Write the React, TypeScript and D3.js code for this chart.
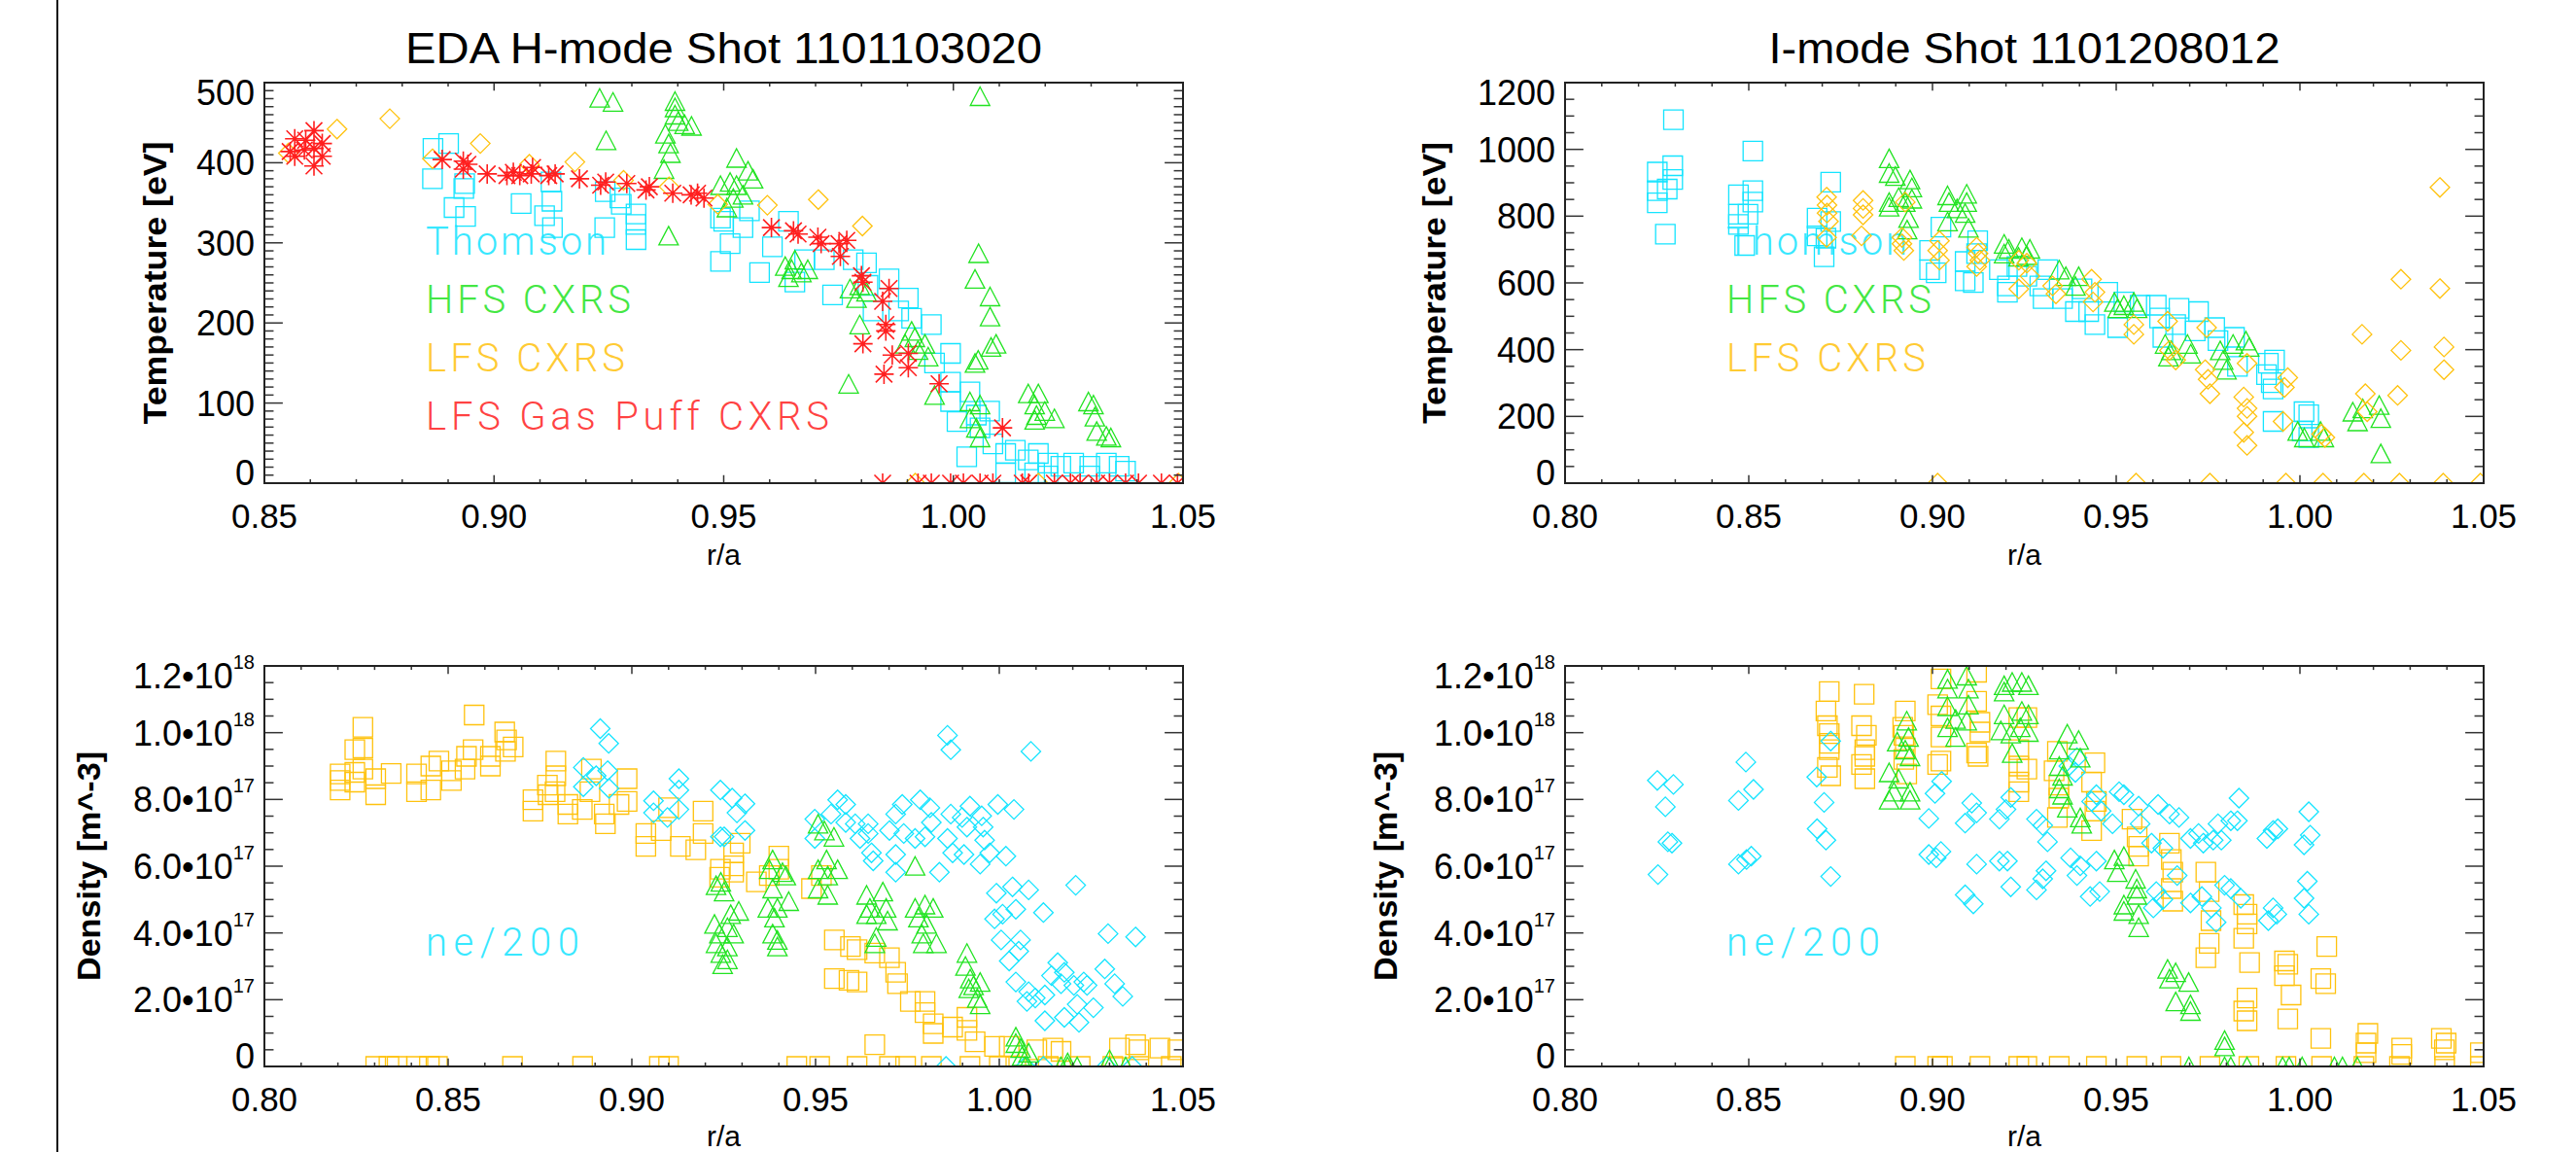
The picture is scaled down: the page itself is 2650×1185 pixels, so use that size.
import React from 'react';
import * as d3 from 'd3';

type Pt = [number, number];

// ---------- EDA H-mode shot 1101103020 : temperature [eV] vs r/a ----------
const edaTeThomson: Pt[] = [
  [0.8867, 418], [0.8901, 424], [0.8866, 380], [0.8936, 374], [0.8934, 368], [0.8913, 344], [0.8938, 333],
  [0.9059, 349], [0.9110, 334], [0.9126, 352], [0.9127, 319], [0.9124, 376], [0.9241, 319], [0.9277, 348],
  [0.9274, 356], [0.9309, 336], [0.9309, 323], [0.9309, 304], [0.9242, 364], [0.9493, 331], [0.9493, 277],
  [0.9500, 327], [0.9514, 299], [0.9542, 319], [0.9556, 340], [0.9578, 263], [0.9606, 295], [0.9641, 327],
  [0.9655, 251], [0.9676, 279], [0.9719, 279], [0.9737, 235], [0.9782, 279], [0.9811, 275], [0.9814, 247],
  [0.9825, 215], [0.9860, 255], [0.9881, 215], [0.9902, 231], [0.9909, 206], [0.9952, 198], [0.9994, 162],
  [0.9959, 150], [0.9994, 126], [1.0036, 114], [0.9994, 102], [1.0008, 77], [1.0050, 85], [1.0079, 90],
  [1.0029, 33], [1.0058, 69], [1.0086, 49], [1.0114, 37], [1.0135, 41], [1.0163, 29], [1.0185, 37],
  [1.0206, 25], [1.0234, 21], [1.0262, 25], [1.0297, 21], [1.0333, 25], [1.0361, 21], [1.0375, 15],
  [1.0206, 9], [1.0177, 13], [1.0114, 13], [1.0297, 9],
];
const edaTeHfs: Pt[] = [
  [0.9230, 481], [0.9259, 476], [0.9244, 428], [0.9394, 477], [0.9394, 469], [0.9394, 460], [0.9401, 452],
  [0.9415, 448], [0.9430, 446], [0.9373, 436], [0.9380, 424], [0.9384, 412], [0.9370, 392], [0.9380, 309],
  [0.9493, 372], [0.9528, 406], [0.9553, 390], [0.9564, 380], [0.9514, 376], [0.9528, 372], [0.9542, 360],
  [0.9507, 344], [0.9521, 356], [0.9655, 279], [0.9648, 267], [0.9641, 257], [0.9669, 263], [0.9683, 267],
  [0.9634, 271], [0.9772, 124], [0.9775, 243], [0.9796, 247], [0.9789, 231], [0.9811, 239], [0.9796, 198],
  [0.9909, 190], [0.9916, 182], [0.9938, 174], [0.9923, 166], [0.9945, 158], [0.9895, 174], [0.9959, 110],
  [1.0036, 102], [1.0058, 98], [1.0036, 81], [1.0050, 69], [1.0058, 57], [1.0058, 483], [1.0055, 287],
  [1.0047, 255], [1.0080, 233], [1.0080, 208], [1.0082, 170], [1.0093, 174], [1.0047, 150], [1.0054, 154],
  [1.0163, 112], [1.0185, 112], [1.0177, 98], [1.0181, 85], [1.0199, 90], [1.0220, 81], [1.0177, 79],
  [1.0294, 102], [1.0305, 98], [1.0308, 83], [1.0312, 65], [1.0333, 59], [1.0343, 57],
];
const edaTeLfs: Pt[] = [
  [0.8552, 412], [0.8658, 442], [0.8773, 455], [0.8866, 405], [0.8970, 424], [0.9077, 398], [0.9176, 401],
  [0.9282, 378], [0.9381, 370], [0.9487, 348], [0.9595, 347], [0.9706, 354], [0.9802, 321],
  [0.9917, 0], [1.0185, 0], [1.0490, 0],
];
const edaTeGasPuff: Pt[] = [
  [0.8566, 430], [0.8566, 408], [0.8608, 440], [0.8608, 418], [0.8608, 396], [0.8626, 424], [0.8626, 408],
  [0.8587, 416], [0.8556, 414], [0.8590, 428],
  [0.8887, 404], [0.8933, 402], [0.8933, 392], [0.8943, 398], [0.8985, 386], [0.9028, 384], [0.9042, 388],
  [0.9056, 384], [0.9081, 386], [0.9084, 394], [0.9119, 384], [0.9133, 386], [0.9186, 380], [0.9232, 372],
  [0.9243, 376], [0.9289, 374], [0.9331, 366], [0.9338, 370], [0.9389, 362], [0.9429, 360], [0.9443, 362],
  [0.9457, 356], [0.9604, 319], [0.9652, 315], [0.9662, 311], [0.9705, 307], [0.9712, 299], [0.9751, 299],
  [0.9768, 303], [0.9754, 283], [0.9800, 259], [0.9803, 251], [0.9846, 227], [0.9860, 243], [0.9853, 198],
  [0.9853, 190], [0.9803, 174], [0.9867, 160], [0.9849, 136], [0.9902, 162], [0.9902, 144], [0.9969, 124],
  [1.0107, 69],
  [0.9846, 0], [0.9923, 0], [0.9952, 0], [0.9994, 0], [1.0022, 0], [1.0058, 0], [1.0086, 0], [1.0150, 0],
  [1.0164, 0], [1.0220, 0], [1.0255, 0], [1.0276, 0], [1.0312, 0], [1.0340, 0], [1.0375, 0], [1.0403, 0],
  [1.0453, 0], [1.0488, 0],
];

// ---------- I-mode shot 1101208012 : temperature [eV] vs r/a ----------
const imodeTeThomson: Pt[] = [
  [0.8295, 1089], [0.8251, 932], [0.8293, 951], [0.8293, 910], [0.8278, 881], [0.8251, 876], [0.8251, 840],
  [0.8273, 746], [0.8511, 995], [0.8472, 864], [0.8511, 876], [0.8511, 842], [0.8472, 806], [0.8498, 806],
  [0.8472, 775], [0.8489, 712], [0.8723, 902], [0.8686, 794], [0.8723, 784], [0.8686, 741], [0.8710, 734],
  [0.8705, 678], [0.9023, 767], [0.8992, 697], [0.8992, 640], [0.9010, 630], [0.9089, 664], [0.9089, 606],
  [0.9111, 601], [0.9123, 726], [0.9120, 688], [0.9182, 640], [0.9204, 591], [0.9204, 572], [0.9230, 649],
  [0.9257, 620], [0.9314, 640], [0.9301, 553], [0.9292, 591], [0.9354, 553], [0.9389, 514], [0.9407, 582],
  [0.9425, 514], [0.9442, 475], [0.9477, 572], [0.9504, 466], [0.9521, 543], [0.9565, 533], [0.9609, 533],
  [0.9618, 495], [0.9627, 437], [0.9671, 524], [0.9662, 475], [0.9724, 514], [0.9715, 456], [0.9768, 466],
  [0.9777, 427], [0.9822, 437], [0.9830, 350], [0.9914, 359], [0.9931, 369], [0.9922, 301], [0.9927, 282],
  [0.9909, 325], [0.9927, 185], [1.0011, 214], [1.0024, 205], [1.0006, 156], [1.0024, 137],
];
const imodeTeHfs: Pt[] = [
  [0.8882, 973], [0.8882, 929], [0.8899, 920], [0.8939, 910], [0.8944, 886], [0.8882, 842], [0.8882, 828],
  [0.8908, 857], [0.8926, 842], [0.8944, 852], [0.8935, 794], [0.8931, 760], [0.9041, 862], [0.9045, 842],
  [0.9093, 867], [0.9093, 842], [0.9067, 823], [0.9089, 809], [0.9041, 784], [0.9098, 765], [0.9195, 717],
  [0.9208, 702], [0.9195, 688], [0.9243, 707], [0.9234, 678], [0.9265, 702], [0.9257, 683], [0.9345, 640],
  [0.9363, 620], [0.9398, 620], [0.9389, 591], [0.9495, 543], [0.9504, 524], [0.9521, 533], [0.9548, 543],
  [0.9557, 524], [0.9633, 417], [0.9650, 398], [0.9642, 379], [0.9694, 417], [0.9703, 388], [0.9783, 398],
  [0.9791, 369], [0.9800, 340], [0.9818, 417], [0.9853, 427], [0.9862, 408], [0.9994, 156], [1.0012, 137],
  [1.0056, 156], [1.0065, 137], [1.0144, 214], [1.0171, 224], [1.0157, 185], [1.0216, 234], [1.0220, 195],
  [1.0220, 89],
];
const imodeTeLfs: Pt[] = [
  [0.8712, 857], [0.8713, 833], [0.8713, 809], [0.8717, 784], [0.8712, 736], [0.8811, 847], [0.8811, 823],
  [0.8811, 804], [0.8807, 741], [0.8917, 736], [0.8917, 717], [0.8922, 697], [0.8926, 842], [0.9019, 726],
  [0.9014, 697], [0.9019, 668], [0.9120, 707], [0.9124, 688], [0.9129, 668], [0.9120, 649], [0.9235, 668],
  [0.9235, 582], [0.9257, 659], [0.9265, 620], [0.9327, 591], [0.9336, 567], [0.9433, 611], [0.9442, 572],
  [0.9437, 543], [0.9548, 475], [0.9548, 446], [0.9640, 485], [0.9645, 398], [0.9662, 369], [0.9746, 466],
  [0.9742, 340], [0.9750, 311], [0.9755, 268], [0.9847, 258], [0.9856, 224], [0.9856, 200], [0.9847, 152],
  [0.9856, 113], [0.9856, 359], [0.9967, 316], [0.9958, 287], [0.9954, 185], [1.0059, 147], [1.0068, 137],
  [1.0169, 446], [1.0178, 268], [1.0183, 214], [1.0275, 611], [1.0275, 398], [1.0266, 263], [1.0381, 886],
  [1.0381, 583], [1.0392, 408], [1.0392, 340],
  [0.9014, 0], [0.9554, 0], [0.9755, 0], [0.9962, 0], [1.0063, 0], [1.0174, 0], [1.0271, 0], [1.0390, 0],
  [1.0491, 0],
];

// ---------- EDA H-mode : density [1e17 m^-3] ----------
const edaNeThomson: Pt[] = [
  [0.8914, 10.12], [0.8937, 9.68], [0.8868, 8.96], [0.8903, 8.71], [0.8934, 8.86], [0.8868, 8.38], [0.8938, 8.33],
  [0.9059, 7.96], [0.9059, 7.60], [0.9128, 8.62], [0.9128, 8.28], [0.9128, 7.70], [0.9097, 7.46], [0.9241, 8.28],
  [0.9241, 6.88], [0.9273, 8.04], [0.9308, 7.87], [0.9286, 7.60], [0.9251, 6.88], [0.9308, 7.07], [0.9498, 7.41],
  [0.9498, 6.83], [0.9560, 7.99], [0.9582, 7.85], [0.9542, 7.56], [0.9582, 7.31], [0.9608, 7.27], [0.9621, 6.83],
  [0.9643, 7.27], [0.9643, 6.98], [0.9652, 6.40], [0.9657, 6.16], [0.9701, 7.07], [0.9718, 7.56], [0.9740, 6.98],
  [0.9736, 7.85], [0.9771, 6.83], [0.9785, 7.99], [0.9811, 7.75], [0.9815, 7.31], [0.9798, 6.88], [0.9718, 6.35],
  [0.9718, 5.82], [0.9859, 6.83], [0.9873, 6.40], [0.9868, 7.56], [0.9899, 7.46], [0.9920, 7.80], [0.9912, 7.17],
  [0.9952, 7.51], [0.9956, 7.17], [0.9960, 6.78], [0.9904, 6.35], [0.9948, 6.06], [0.9974, 6.40], [1.0018, 6.30],
  [0.9996, 7.85], [1.0040, 7.70], [0.9837, 5.82], [0.9859, 9.92], [0.9868, 9.49], [1.0086, 9.44], [0.9992, 5.19],
  [1.0036, 5.38], [1.0080, 5.29], [1.0208, 5.43], [1.0045, 4.71], [0.9987, 4.42], [1.0009, 4.56], [1.0120, 4.61],
  [1.0005, 3.79], [1.0058, 3.79], [1.0053, 3.45], [1.0027, 3.16], [1.0045, 2.53], [1.0080, 2.24], [1.0075, 1.95],
  [1.0098, 2.05], [1.0124, 2.14], [1.0142, 2.72], [1.0159, 3.11], [1.0177, 2.82], [1.0168, 2.48], [1.0203, 2.43],
  [1.0230, 2.53], [1.0239, 2.43], [1.0212, 1.86], [1.0256, 1.76], [1.0124, 1.37], [1.0177, 1.47], [1.0217, 1.32],
  [1.0287, 2.92], [1.0296, 3.98], [1.0371, 3.88], [1.0314, 2.48], [1.0336, 2.10],
  [0.9855, 0], [1.0071, 0], [1.0120, 0], [1.0292, 0], [1.0362, 0],
];
const edaNeHfs: Pt[] = [
  [0.9229, 5.43], [0.9242, 5.53], [0.9225, 4.27], [0.9238, 3.98], [0.9229, 3.69], [0.9242, 3.40], [0.9247, 3.06],
  [0.9251, 5.24], [0.9269, 4.56], [0.9291, 4.66], [0.9260, 4.17], [0.9277, 3.98], [0.9260, 3.59], [0.9260, 3.21],
  [0.9383, 6.20], [0.9374, 5.91], [0.9410, 5.82], [0.9383, 5.33], [0.9419, 5.72], [0.9370, 4.75], [0.9396, 4.75],
  [0.9427, 4.95], [0.9388, 4.46], [0.9383, 3.98], [0.9396, 3.79], [0.9396, 3.59], [0.9507, 7.27], [0.9524, 7.07],
  [0.9550, 6.88], [0.9507, 5.91], [0.9530, 6.20], [0.9533, 5.72], [0.9560, 5.91], [0.9507, 5.33], [0.9533, 5.14],
  [0.9639, 5.14], [0.9683, 5.24], [0.9648, 4.75], [0.9665, 4.56], [0.9692, 4.75], [0.9639, 4.56], [0.9696, 4.37],
  [0.9665, 3.88], [0.9661, 3.69], [0.9771, 4.75], [0.9798, 4.85], [0.9820, 4.75], [0.9780, 4.46], [0.9802, 4.27],
  [0.9789, 3.98], [0.9793, 3.69], [0.9829, 3.69], [0.9771, 6.01], [0.9912, 3.40], [0.9908, 3.01], [0.9921, 2.63],
  [0.9930, 2.43], [0.9917, 2.34], [0.9948, 2.53], [0.9940, 2.05], [0.9948, 1.86], [1.0045, 0.89], [1.0045, 0.70],
  [1.0058, 0.55], [1.0080, 0.41], [1.0062, 0.31], [1.0186, 0.12], [1.0300, 0.21],
  [1.0071, 0], [1.0168, 0], [1.0186, 0], [1.0212, 0], [1.0300, 0], [1.0344, 0],
];
const edaNeLfs: Pt[] = [
  [0.8206, 8.76], [0.8206, 8.57], [0.8206, 8.28], [0.8246, 9.49], [0.8268, 10.16], [0.8268, 9.54], [0.8268, 8.91],
  [0.8246, 8.81], [0.8246, 8.52], [0.8303, 8.62], [0.8303, 8.14], [0.8345, 8.78], [0.8414, 8.76], [0.8414, 8.23],
  [0.8453, 9.00], [0.8475, 9.15], [0.8453, 8.28], [0.8509, 8.57], [0.8509, 8.86], [0.8550, 9.29], [0.8568, 9.49],
  [0.8546, 8.91], [0.8571, 10.53], [0.8615, 9.00], [0.8615, 9.29], [0.8654, 10.02], [0.8659, 9.78], [0.8677, 9.57],
  [0.8656, 9.44], [0.8731, 7.99], [0.8731, 7.65], [0.8770, 8.43], [0.8772, 8.14], [0.8793, 9.15], [0.8793, 8.71],
  [0.8791, 8.23], [0.8826, 7.85], [0.8826, 7.56], [0.8865, 7.70], [0.8890, 8.91], [0.8886, 8.23], [0.8925, 7.56],
  [0.8928, 7.27], [0.8965, 7.85], [0.8987, 8.62], [0.8987, 7.94], [0.9038, 6.98], [0.9038, 6.59], [0.9080, 7.07],
  [0.9100, 7.75], [0.9132, 6.59], [0.9174, 6.49], [0.9194, 7.65], [0.9194, 6.98], [0.9241, 5.91], [0.9239, 5.67],
  [0.9277, 6.40], [0.9277, 6.01], [0.9277, 5.82], [0.9295, 6.69], [0.9339, 5.53], [0.9374, 5.72], [0.9400, 6.30],
  [0.9400, 5.91], [0.9489, 5.33], [0.9516, 5.72], [0.9551, 3.79], [0.9595, 3.59], [0.9613, 3.50], [0.9661, 3.40],
  [0.9701, 3.26], [0.9551, 2.63], [0.9591, 2.58], [0.9613, 2.53], [0.9718, 2.82], [0.9723, 2.48], [0.9758, 1.95],
  [0.9798, 1.95], [0.9798, 1.61], [0.9820, 1.28], [0.9820, 0.99], [0.9873, 1.18], [0.9912, 1.47], [0.9912, 1.08],
  [0.9934, 0.74], [0.9987, 0.60], [0.9661, 0.65], [1.0027, 0.60], [1.0102, 0.50], [1.0146, 0.55], [1.0168, 0.45],
  [1.0327, 0.55], [1.0371, 0.65], [1.0380, 0.50], [1.0437, 0.55], [1.0486, 0.50],
  [0.8303, 0], [0.8339, 0], [0.8361, 0], [0.8414, 0], [0.8449, 0], [0.8471, 0], [0.8675, 0], [0.8866, 0],
  [0.9075, 0], [0.9100, 0], [0.9449, 0], [0.9511, 0], [0.9613, 0], [0.9701, 0], [0.9745, 0], [0.9815, 0],
  [0.9920, 0], [1.0000, 0], [1.0045, 0], [1.0133, 0], [1.0220, 0], [1.0309, 0], [1.0380, 0], [1.0468, 0],
];

// ---------- I-mode : density [1e17 m^-3] ----------
const imodeNeThomson: Pt[] = [
  [0.8251, 8.57], [0.8295, 8.45], [0.8273, 7.78], [0.8280, 6.73], [0.8291, 6.69], [0.8253, 5.75], [0.8492, 9.12],
  [0.8472, 7.97], [0.8513, 8.30], [0.8472, 6.06], [0.8494, 6.20], [0.8507, 6.30], [0.8685, 8.67], [0.8723, 9.75],
  [0.8705, 7.91], [0.8686, 7.12], [0.8710, 6.78], [0.8723, 5.69], [0.9025, 8.54], [0.9007, 8.18], [0.8990, 7.43],
  [0.8990, 6.35], [0.9010, 6.25], [0.9023, 6.44], [0.9107, 7.89], [0.9120, 7.60], [0.9089, 7.29], [0.9120, 6.06],
  [0.9089, 5.14], [0.9111, 4.87], [0.9213, 8.06], [0.9200, 7.70], [0.9182, 7.41], [0.9182, 6.15], [0.9204, 6.15],
  [0.9213, 5.38], [0.9283, 7.41], [0.9300, 7.22], [0.9313, 6.73], [0.9376, 6.25], [0.9402, 6.01], [0.9393, 5.72],
  [0.9446, 6.15], [0.9309, 5.86], [0.9300, 5.62], [0.9283, 5.29], [0.9429, 5.09], [0.9455, 5.24], [0.9371, 9.00],
  [0.9393, 9.25], [0.9389, 8.81], [0.9446, 8.14], [0.9433, 7.94], [0.9459, 7.65], [0.9490, 7.27], [0.9508, 8.23],
  [0.9521, 8.14], [0.9561, 7.80], [0.9565, 7.27], [0.9596, 6.69], [0.9614, 7.85], [0.9627, 6.54], [0.9645, 7.56],
  [0.9671, 7.46], [0.9666, 5.72], [0.9609, 5.24], [0.9627, 5.00], [0.9601, 4.75], [0.9702, 6.83], [0.9724, 6.98],
  [0.9737, 6.69], [0.9764, 6.78], [0.9777, 7.27], [0.9786, 6.78], [0.9812, 7.36], [0.9830, 7.36], [0.9834, 8.04],
  [0.9702, 4.90], [0.9733, 5.09], [0.9759, 4.75], [0.9772, 4.32], [0.9795, 5.43], [0.9812, 5.33], [0.9839, 5.04],
  [0.9910, 6.83], [0.9927, 7.07], [0.9940, 7.12], [0.9927, 4.75], [0.9914, 4.37], [0.9937, 4.56], [1.0024, 7.63],
  [1.0011, 6.64], [1.0028, 6.93], [1.0020, 5.55], [1.0011, 5.04], [1.0024, 4.56],
];
const imodeNeHfs: Pt[] = [
  [0.8930, 10.36], [0.8904, 9.73], [0.8935, 9.87], [0.8926, 9.49], [0.8939, 9.29], [0.8882, 8.81], [0.8908, 8.62],
  [0.8895, 8.23], [0.8882, 7.99], [0.8939, 7.99], [0.8939, 8.23], [0.9041, 11.61], [0.9041, 11.32], [0.9041, 10.79],
  [0.9063, 10.41], [0.9041, 10.16], [0.9063, 9.87], [0.9093, 11.71], [0.9098, 11.32], [0.9098, 10.84], [0.9093, 10.36],
  [0.9195, 11.42], [0.9217, 11.52], [0.9195, 11.23], [0.9195, 10.55], [0.9186, 10.07], [0.9213, 9.97], [0.9217, 9.39],
  [0.9243, 11.52], [0.9243, 10.65], [0.9239, 10.16], [0.9261, 11.42], [0.9261, 10.55], [0.9261, 10.02], [0.9367, 9.97],
  [0.9398, 9.78], [0.9345, 9.49], [0.9402, 9.25], [0.9345, 9.00], [0.9354, 8.71], [0.9345, 8.33], [0.9354, 8.14],
  [0.9367, 7.75], [0.9402, 7.46], [0.9406, 7.27], [0.9495, 6.20], [0.9521, 6.30], [0.9503, 5.82], [0.9553, 5.62],
  [0.9556, 5.33], [0.9521, 4.85], [0.9521, 4.66], [0.9561, 4.56], [0.9561, 4.17], [0.9556, 5.14], [0.9640, 2.92],
  [0.9662, 2.82], [0.9697, 2.53], [0.9645, 2.63], [0.9662, 1.95], [0.9702, 1.86], [0.9702, 1.66], [0.9795, 0.79],
  [0.9795, 0.60],
  [0.9698, 0], [0.9795, 0], [0.9812, 0], [0.9856, 0], [0.9953, 0], [0.9971, 0], [1.0006, 0], [1.0094, 0],
  [1.0116, 0], [1.0156, 0],
];
const imodeNeLfs: Pt[] = [
  [0.8719, 11.23], [0.8710, 10.65], [0.8714, 10.21], [0.8719, 9.97], [0.8719, 9.68], [0.8719, 9.49], [0.8714, 8.96],
  [0.8723, 8.71], [0.8814, 11.15], [0.8807, 10.21], [0.8820, 9.92], [0.8816, 9.49], [0.8816, 9.29], [0.8807, 9.05],
  [0.8816, 8.62], [0.8926, 10.65], [0.8919, 10.16], [0.8922, 9.92], [0.8926, 9.54], [0.8922, 9.20], [0.8930, 8.76],
  [0.9023, 11.61], [0.9014, 10.84], [0.9023, 10.50], [0.9023, 9.87], [0.9023, 9.15], [0.9014, 9.05], [0.9120, 11.81],
  [0.9120, 10.94], [0.9129, 10.31], [0.9129, 10.02], [0.9120, 9.39], [0.9124, 9.29], [0.9235, 10.45], [0.9235, 9.49],
  [0.9235, 9.00], [0.9235, 8.52], [0.9235, 8.23], [0.9257, 10.45], [0.9257, 8.91], [0.9340, 9.44], [0.9331, 8.86],
  [0.9344, 8.43], [0.9344, 8.04], [0.9340, 7.46], [0.9442, 9.10], [0.9433, 8.52], [0.9446, 7.94], [0.9442, 7.65],
  [0.9433, 7.07], [0.9543, 7.41], [0.9557, 6.88], [0.9561, 6.59], [0.9561, 6.30], [0.9645, 6.69], [0.9650, 6.20],
  [0.9654, 5.82], [0.9650, 5.33], [0.9654, 4.95], [0.9744, 5.82], [0.9753, 5.24], [0.9758, 4.37], [0.9753, 3.69],
  [0.9744, 3.26], [0.9847, 4.85], [0.9856, 4.56], [0.9856, 4.27], [0.9847, 3.84], [0.9863, 3.11], [0.9856, 2.05],
  [0.9847, 1.66], [0.9856, 1.37], [0.9958, 3.16], [0.9967, 3.06], [0.9958, 2.72], [0.9976, 2.14], [0.9967, 1.42],
  [1.0073, 3.59], [1.0057, 2.63], [1.0070, 2.48], [1.0057, 0.84], [1.0185, 0.99], [1.0180, 0.70], [1.0180, 0.41],
  [1.0277, 0.55], [1.0277, 0.36], [1.0385, 0.84], [1.0398, 0.70], [1.0393, 0.50], [1.0491, 0.41],
  [0.8926, 0], [0.9014, 0], [0.9027, 0], [0.9129, 0], [0.9235, 0], [0.9257, 0], [0.9345, 0], [0.9446, 0],
  [0.9556, 0], [0.9649, 0], [0.9755, 0], [0.9861, 0], [0.9962, 0], [1.0059, 0], [1.0174, 0], [1.0271, 0],
  [1.0394, 0], [1.0491, 0],
];

// axis ticks
const xTicksEda = [0.85, 0.90, 0.95, 1.00, 1.05];
const xTicksWide = [0.80, 0.85, 0.90, 0.95, 1.00, 1.05];
const teTicksEda = [0, 100, 200, 300, 400, 500];
const teTicksImode = [0, 200, 400, 600, 800, 1000, 1200];
const neTicks = [0, 2, 4, 6, 8, 10, 12]; // in units of 1e17
const NE_UNIT = 1e17;

const CYAN = '#14E4FF';
const GREEN = '#22E322';
const ORANGE = '#FFC20E';
const RED = '#FF1F1F';

const W = 945;
const H = 412;
const PAGE_H = 1185;
const FONT = '"Liberation Sans", Arial, Helvetica, sans-serif';
const THIN = 'Roboto, "Open Sans", "Liberation Sans", sans-serif';

const markerPath = (shape: string) => {
  switch (shape) {
    case 'square':
      return 'M-10,-10H10V10H-10Z';
    case 'triangle':
      return 'M0,-9.5L10,9.5L-10,9.5Z';
    case 'diamond':
      return 'M0,-10L10,0L0,10L-10,0Z';
    default:
      return 'M-10,0H10M0,-10V10M-8.5,-8.5L8.5,8.5M-8.5,8.5L8.5,-8.5';
  }
};

const neLabel = (v: number) => {
  if (v === 0) return { main: '0', exp: '' };
  const val = v * NE_UNIT;
  const e = Math.floor(Math.log10(val) + 1e-9);
  return { main: `${(val / Math.pow(10, e)).toFixed(1)}•10`, exp: String(e) };
};

type Series = { data: Pt[]; shape: string; color: string };
type Legend = { text: string; color: string; len: number };

type PanelProps = {
  id: string;
  left: number;
  top: number;
  xDomain: [number, number];
  xTicks: number[];
  yTicks: number[];
  yStep: number;
  density?: boolean;
  title?: string;
  titleLen?: number;
  yTitle: string;
  yTitleLen: number;
  yTitleX: number;
  series: Series[];
  legend: Legend[];
  legendY: number;
};

const Panel = (p: PanelProps) => {
  const yDomain: [number, number] = [p.yTicks[0], p.yTicks[p.yTicks.length - 1]];
  const x = d3.scaleLinear().domain(p.xDomain).range([p.left, p.left + W]);
  const y = d3.scaleLinear().domain(yDomain).range([p.top + H, p.top]);
  const bottom = p.top + H;
  const right = p.left + W;
  const xMinor = d3.range(Math.round(p.xDomain[0] * 100), Math.round(p.xDomain[1] * 100) + 1).map(v => v / 100);
  const yMinor = d3.range(yDomain[0], yDomain[1] + p.yStep / 2, p.yStep);
  const isMajor = (v: number, arr: number[]) => arr.some(m => Math.abs(m - v) < 1e-6);
  const xLen = 0.02 * H;
  const yLen = 0.02 * W;

  return (
    <g>
      <defs>
        <clipPath id={`clip-${p.id}`}>
          <rect x={p.left} y={p.top} width={W} height={H} />
        </clipPath>
      </defs>

      {/* title */}
      {p.title && (
        <text x={p.left + W / 2} y={p.top - 20} textAnchor="middle" fontSize={45} fontFamily={FONT}
          textLength={p.titleLen} lengthAdjust="spacingAndGlyphs">{p.title}</text>
      )}

      {/* legend labels */}
      {p.legend.map((l, i) => (
        <text key={l.text} x={p.left + 166} y={p.top + p.legendY + 60 * i} fill={l.color} fillOpacity={0.85}
          fontSize={40} fontFamily={THIN} fontWeight={300} textLength={l.len} lengthAdjust="spacing">{l.text}</text>
      ))}

      {/* points */}
      <g clipPath={`url(#clip-${p.id})`}>
        {p.series.map((s, si) => (
          <g key={si} fill="none" stroke={s.color} strokeWidth={s.shape === 'asterisk' ? 1.6 : 1.3}>
            {s.data.map((d, i) => (
              <path key={i} d={markerPath(s.shape)}
                transform={`translate(${x(d[0]).toFixed(1)},${y(d[1]).toFixed(1)})`} />
            ))}
          </g>
        ))}
      </g>

      {/* ticks */}
      <g stroke="#333" strokeWidth={1.5}>
        {xMinor.map(v => {
          const len = isMajor(v, p.xTicks) ? xLen : xLen / 2;
          return (
            <g key={`xt-${v}`}>
              <line x1={x(v)} x2={x(v)} y1={bottom} y2={bottom - len} />
              <line x1={x(v)} x2={x(v)} y1={p.top} y2={p.top + len} />
            </g>
          );
        })}
        {yMinor.map(v => {
          const len = isMajor(v, p.yTicks) ? yLen : yLen / 2;
          return (
            <g key={`yt-${v}`}>
              <line x1={p.left} x2={p.left + len} y1={y(v)} y2={y(v)} />
              <line x1={right} x2={right - len} y1={y(v)} y2={y(v)} />
            </g>
          );
        })}
      </g>
      <rect x={p.left} y={p.top} width={W} height={H} fill="none" stroke="#222" strokeWidth={2} />

      {/* x tick labels */}
      {p.xTicks.map(v => (
        <text key={`xl-${v}`} x={x(v)} y={bottom + 46} textAnchor="middle" fontSize={35} fontFamily={FONT}>
          {v.toFixed(2)}
        </text>
      ))}
      <text x={p.left + W / 2} y={Math.min(bottom + 84, PAGE_H - 6.5)} textAnchor="middle" fontSize={30}
        fontFamily={FONT}>r/a</text>

      {/* y tick labels */}
      {p.yTicks.map(v => {
        const cy = Math.min(Math.max(y(v), p.top + 10), bottom - 11);
        if (p.density) {
          const lab = neLabel(v);
          return (
            <text key={`yl-${v}`} x={p.left - 10} y={cy + 13} textAnchor="end" fontSize={36} fontFamily={FONT}>
              {lab.main}
              {lab.exp && <tspan dy={-20} fontSize={20}>{lab.exp}</tspan>}
            </text>
          );
        }
        return (
          <text key={`yl-${v}`} x={p.left - 10} y={cy + 13} textAnchor="end" fontSize={36} fontFamily={FONT}>
            {v}
          </text>
        );
      })}

      {/* y axis title */}
      <text transform={`translate(${p.yTitleX},${p.top + H / 2}) rotate(-90)`} textAnchor="middle"
        fontSize={33} fontWeight="bold" fontFamily={FONT} textLength={p.yTitleLen}
        lengthAdjust="spacingAndGlyphs">{p.yTitle}</text>
    </g>
  );
};

export default function App() {
  return (
    <svg width={2650} height={PAGE_H} viewBox={`0 0 2650 ${PAGE_H}`}
      style={{ position: 'absolute', left: 0, top: 0, display: 'block', background: '#fff' }}>
      <rect x={0} y={0} width={2650} height={PAGE_H} fill="#fff" />
      <line x1={59} x2={59} y1={0} y2={PAGE_H} stroke="#111" strokeWidth={2} />

      <Panel id="p1" left={272} top={85} xDomain={[0.85, 1.05]} xTicks={xTicksEda}
        yTicks={teTicksEda} yStep={10} title="EDA H-mode Shot 1101103020" titleLen={655}
        yTitle="Temperature [eV]" yTitleLen={291} yTitleX={171}
        series={[
          { data: edaTeThomson, shape: 'square', color: CYAN },
          { data: edaTeHfs, shape: 'triangle', color: GREEN },
          { data: edaTeLfs, shape: 'diamond', color: ORANGE },
          { data: edaTeGasPuff, shape: 'asterisk', color: RED },
        ]}
        legend={[
          { text: 'Thomson', color: CYAN, len: 186 },
          { text: 'HFS CXRS', color: GREEN, len: 211 },
          { text: 'LFS CXRS', color: ORANGE, len: 205 },
          { text: 'LFS Gas Puff CXRS', color: RED, len: 415 },
        ]}
        legendY={177} />

      <Panel id="p2" left={1610} top={85} xDomain={[0.80, 1.05]} xTicks={xTicksWide}
        yTicks={teTicksImode} yStep={50} title="I-mode Shot 1101208012" titleLen={526}
        yTitle="Temperature [eV]" yTitleLen={290} yTitleX={1487}
        series={[
          { data: imodeTeThomson, shape: 'square', color: CYAN },
          { data: imodeTeHfs, shape: 'triangle', color: GREEN },
          { data: imodeTeLfs, shape: 'diamond', color: ORANGE },
        ]}
        legend={[
          { text: 'Thomson', color: CYAN, len: 186 },
          { text: 'HFS CXRS', color: GREEN, len: 211 },
          { text: 'LFS CXRS', color: ORANGE, len: 205 },
        ]}
        legendY={177} />

      <Panel id="p3" left={272} top={685} xDomain={[0.80, 1.05]} xTicks={xTicksWide}
        yTicks={neTicks} yStep={0.5} density
        yTitle="Density [m^-3]" yTitleLen={236} yTitleX={103}
        series={[
          { data: edaNeLfs, shape: 'square', color: ORANGE },
          { data: edaNeThomson, shape: 'diamond', color: CYAN },
          { data: edaNeHfs, shape: 'triangle', color: GREEN },
        ]}
        legend={[{ text: 'ne/200', color: CYAN, len: 158 }]}
        legendY={298} />

      <Panel id="p4" left={1610} top={685} xDomain={[0.80, 1.05]} xTicks={xTicksWide}
        yTicks={neTicks} yStep={0.5} density
        yTitle="Density [m^-3]" yTitleLen={236} yTitleX={1437}
        series={[
          { data: imodeNeLfs, shape: 'square', color: ORANGE },
          { data: imodeNeThomson, shape: 'diamond', color: CYAN },
          { data: imodeNeHfs, shape: 'triangle', color: GREEN },
        ]}
        legend={[{ text: 'ne/200', color: CYAN, len: 158 }]}
        legendY={298} />
    </svg>
  );
}
